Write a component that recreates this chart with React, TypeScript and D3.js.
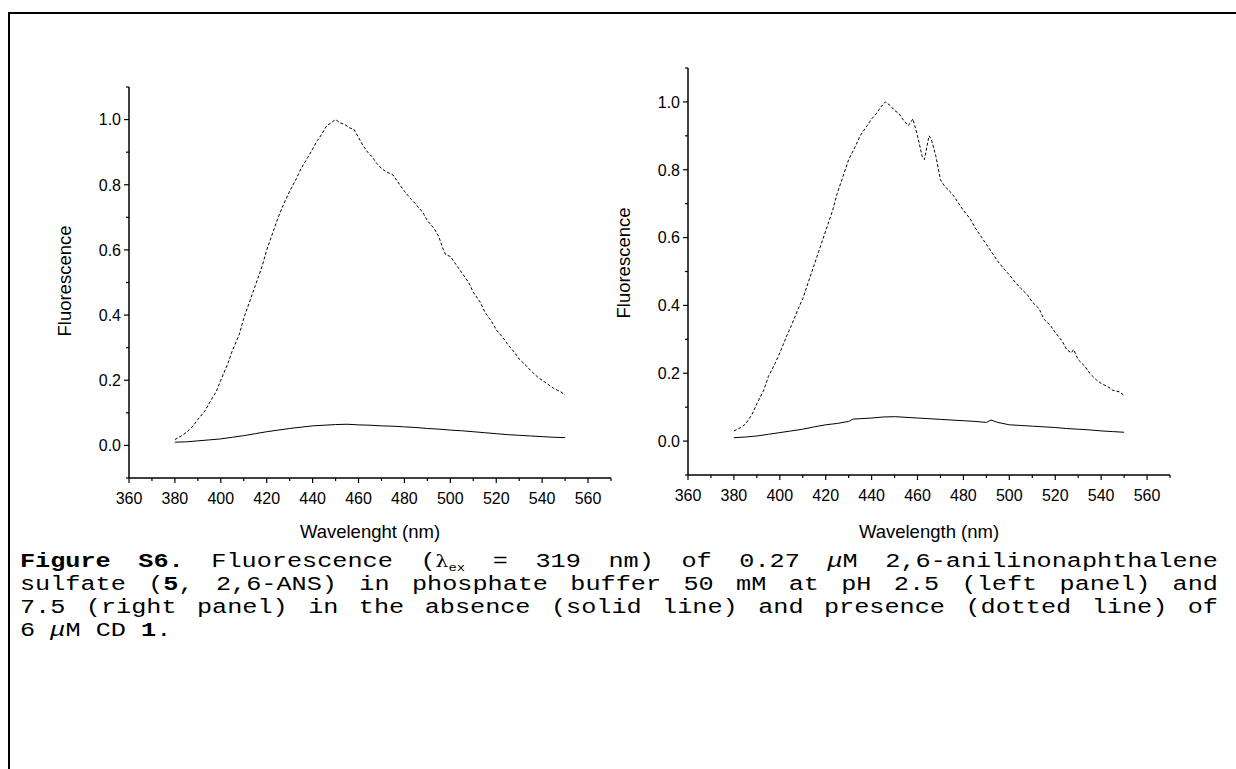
import React from "react";
import * as d3 from "d3";

// ---------- data ----------
const leftDottedNm = [380, 383, 385, 388, 390, 393, 395, 398, 400, 403, 405, 408, 410, 413, 415, 418, 420, 423, 425, 428, 430, 433, 435, 438, 440, 442, 444, 446, 448, 450, 452, 454, 456, 458, 460, 462, 464, 466, 468, 470, 472, 475, 478, 480, 483, 485, 488, 490, 493, 495, 497, 498, 500, 503, 505, 508, 510, 513, 515, 518, 520, 523, 525, 528, 530, 533, 535, 538, 540, 543, 545, 548, 550];
const leftDottedVal = [0.018, 0.03, 0.04, 0.06, 0.08, 0.105, 0.13, 0.165, 0.2, 0.25, 0.29, 0.34, 0.39, 0.45, 0.49, 0.55, 0.6, 0.66, 0.7, 0.75, 0.78, 0.82, 0.85, 0.885, 0.91, 0.935, 0.955, 0.98, 0.99, 1.0, 0.99, 0.985, 0.975, 0.97, 0.945, 0.92, 0.9, 0.885, 0.865, 0.85, 0.84, 0.83, 0.8, 0.78, 0.755, 0.74, 0.715, 0.69, 0.665, 0.64, 0.6, 0.585, 0.58, 0.55, 0.53, 0.5, 0.47, 0.44, 0.41, 0.38, 0.355, 0.33, 0.31, 0.285, 0.265, 0.245, 0.23, 0.21, 0.2, 0.185, 0.175, 0.165, 0.155];
const leftSolidNm = [380, 385, 390, 395, 400, 405, 410, 415, 420, 425, 430, 435, 440, 445, 450, 455, 460, 465, 470, 475, 480, 485, 490, 495, 500, 505, 510, 515, 520, 525, 530, 535, 540, 545, 550];
const leftSolidVal = [0.01, 0.011, 0.014, 0.017, 0.02, 0.025, 0.03, 0.036, 0.042, 0.047, 0.052, 0.056, 0.06, 0.062, 0.064, 0.065, 0.063, 0.062, 0.06, 0.059, 0.057, 0.055, 0.052, 0.05, 0.047, 0.045, 0.042, 0.039, 0.036, 0.033, 0.031, 0.029, 0.027, 0.025, 0.024];

const rightDottedNm = [380, 383, 385, 388, 390, 393, 395, 398, 400, 403, 405, 408, 410, 413, 415, 418, 420, 423, 425, 428, 430, 433, 435, 438, 440, 442, 444, 446, 448, 450, 452, 454, 456, 458, 460, 462, 463, 465, 466, 468, 470, 472, 475, 478, 480, 483, 485, 488, 490, 493, 495, 498, 500, 503, 505, 508, 510, 513, 515, 518, 520, 523, 525, 527, 528, 530, 533, 535, 538, 540, 543, 545, 548, 550];
const rightDottedVal = [0.03, 0.04, 0.05, 0.08, 0.11, 0.15, 0.19, 0.23, 0.26, 0.31, 0.34, 0.39, 0.42, 0.48, 0.52, 0.58, 0.62, 0.68, 0.73, 0.79, 0.83, 0.87, 0.9, 0.93, 0.95, 0.965, 0.985, 1.0, 0.99, 0.975, 0.965, 0.945, 0.93, 0.95, 0.9, 0.84, 0.83, 0.9, 0.89, 0.84, 0.77, 0.75, 0.73, 0.7, 0.68, 0.655, 0.63, 0.6, 0.58, 0.55, 0.53, 0.505, 0.49, 0.465, 0.45, 0.43, 0.41, 0.39, 0.36, 0.34, 0.32, 0.295, 0.27, 0.26, 0.27, 0.24, 0.22, 0.2, 0.18, 0.17, 0.16, 0.15, 0.145, 0.135];
const rightSolidNm = [380, 385, 390, 395, 400, 405, 410, 415, 420, 425, 430, 432, 435, 440, 445, 450, 455, 460, 465, 470, 475, 480, 485, 490, 492, 495, 500, 505, 510, 515, 520, 525, 530, 535, 540, 545, 550];
const rightSolidVal = [0.01, 0.012, 0.015, 0.02, 0.025, 0.03, 0.035, 0.042, 0.048, 0.052, 0.058, 0.065, 0.066, 0.068, 0.071, 0.072, 0.07, 0.068, 0.066, 0.064, 0.062, 0.06, 0.058, 0.055, 0.062, 0.055, 0.048, 0.046, 0.044, 0.042, 0.04, 0.037, 0.035, 0.033, 0.03, 0.028, 0.026];

const xMajorTicks = [360, 380, 400, 420, 440, 460, 480, 500, 520, 540, 560];
const xMinorTicks = [370, 390, 410, 430, 450, 470, 490, 510, 530, 550, 570];
const yMajorTicks = [0.0, 0.2, 0.4, 0.6, 0.8, 1.0];
const yMinorTicks = [-0.1, 0.1, 0.3, 0.5, 0.7, 0.9, 1.1];

const leftXTitle = "Wavelenght (nm)";
const rightXTitle = "Wavelength (nm)";
const yTitle = "Fluorescence";

type PanelProps = {
  x0: number; x1: number; yTop: number; yBottom: number;
  dotted: [number[], number[]]; solid: [number[], number[]];
  xTitle: string; yTitleX: number; yTitleY: number; xTitleY: number;
};

function Panel({ x0, x1, yTop, yBottom, dotted, solid, xTitle, yTitleX, yTitleY, xTitleY }: PanelProps) {
  const x = d3.scaleLinear().domain([360, 570]).range([x0, x1]);
  const y = d3.scaleLinear().domain([-0.1, 1.1]).range([yBottom, yTop]);
  const line = d3.line<[number, number]>().x((d) => x(d[0])).y((d) => y(d[1]));
  const dData = dotted[0].map((n, i) => [n, dotted[1][i]] as [number, number]);
  const sData = solid[0].map((n, i) => [n, solid[1][i]] as [number, number]);
  const font = "'Liberation Sans', Arial, sans-serif";
  return (
    <g>
      <path d={line(sData) || ""} fill="none" stroke="#000" strokeWidth={1} />
      <path d={line(dData) || ""} fill="none" stroke="#000" strokeWidth={1} strokeDasharray="3,2" />
      <line x1={x0} x2={x0} y1={yTop} y2={yBottom} stroke="#000" strokeWidth={1.5} />
      {yMajorTicks.map((t) => (
        <g key={"ym" + t}>
          <line x1={x0 - 5} x2={x0} y1={y(t)} y2={y(t)} stroke="#000" strokeWidth={1.2} />
          <text x={x0 - 8} y={y(t)} dy="0.36em" textAnchor="end" fontFamily={font} fontSize={16}>{t.toFixed(1)}</text>
        </g>
      ))}
      {yMinorTicks.map((t) => (
        <line key={"yn" + t} x1={x0 - 3} x2={x0} y1={y(t)} y2={y(t)} stroke="#000" strokeWidth={1.2} />
      ))}
      <line x1={x0} x2={x1} y1={yBottom} y2={yBottom} stroke="#000" strokeWidth={1.5} />
      {xMajorTicks.map((t) => (
        <g key={"xm" + t}>
          <line x1={x(t)} x2={x(t)} y1={yBottom} y2={yBottom + 5} stroke="#000" strokeWidth={1.2} />
          <text x={x(t)} y={yBottom + 26} textAnchor="middle" fontFamily={font} fontSize={16}>{t}</text>
        </g>
      ))}
      {xMinorTicks.map((t) => (
        <line key={"xn" + t} x1={x(t)} x2={x(t)} y1={yBottom} y2={yBottom + 3} stroke="#000" strokeWidth={1.2} />
      ))}
      <text x={(x0 + x1) / 2} y={xTitleY} textAnchor="middle" fontFamily={font} fontSize={18.5}>{xTitle}</text>
      <text transform={`translate(${yTitleX},${yTitleY}) rotate(-90)`} textAnchor="middle" fontFamily={font} fontSize={18.5}>{yTitle}</text>
    </g>
  );
}

const mono = "'Liberation Mono', 'Courier New', monospace";
const SX = 1.26;
const lineStyle: React.CSSProperties = { textAlign: "justify", textAlignLast: "justify", whiteSpace: "normal", height: 23 };

export default function App() {
  return (
    <div style={{ position: "absolute", left: 0, top: 0, width: 1236, height: 769, background: "#fff", overflow: "hidden" }}>
      <svg width={1236} height={769} style={{ position: "absolute", left: 0, top: 0 }}>
        <rect width={1236} height={769} fill="#fff" />
        <line x1={9} x2={1236} y1={13} y2={13} stroke="#000" strokeWidth={2} />
        <line x1={9} x2={9} y1={12} y2={769} stroke="#000" strokeWidth={2} />
        <Panel x0={129} x1={611} yTop={87} yBottom={478} dotted={[leftDottedNm, leftDottedVal]} solid={[leftSolidNm, leftSolidVal]} xTitle={leftXTitle} yTitleX={71} yTitleY={281} xTitleY={538} />
        <Panel x0={688} x1={1170} yTop={68} yBottom={475} dotted={[rightDottedNm, rightDottedVal]} solid={[rightSolidNm, rightSolidVal]} xTitle={rightXTitle} yTitleX={630} yTitleY={263} xTitleY={538} />
      </svg>
      <div style={{ position: "absolute", left: 20, top: 550, width: 1198 / SX, transform: `scaleX(${SX})`, transformOrigin: "0 0", fontFamily: mono, fontSize: 20, lineHeight: "23px", color: "#000" }}>
        <div style={lineStyle}><b>Figure S6.</b> Fluorescence (<span style={{ fontFamily: "'DejaVu Serif', serif", fontSize: 16 }}>λ</span><span style={{ fontSize: 11, position: "relative", top: 4 }}>ex</span> = 319 nm) of 0.27 <i>μ</i>M 2,6-anilinonaphthalene</div>
        <div style={lineStyle}>sulfate (<b>5</b>, 2,6-ANS) in phosphate buffer 50 mM at pH 2.5 (left panel) and</div>
        <div style={lineStyle}>7.5 (right panel) in the absence (solid line) and presence (dotted line) of</div>
        <div style={{ height: 23 }}>6 <i>μ</i>M CD <b>1</b>.</div>
      </div>
    </div>
  );
}
